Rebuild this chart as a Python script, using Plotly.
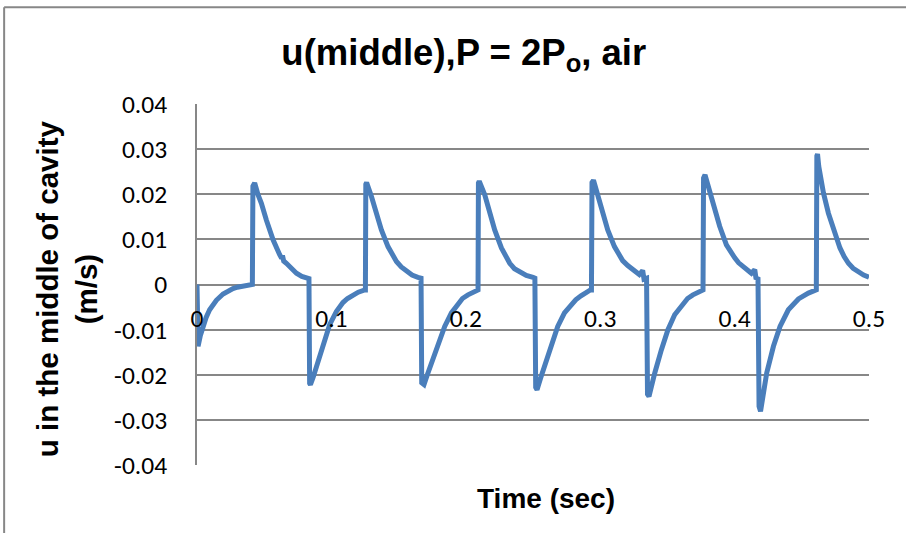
import plotly.graph_objects as go

# Velocity at the middle of the cavity, P = 2Po, air
time_s = [
    # cycle 1
    0.0000, 0.0008, 0.0025, 0.0045, 0.0068, 0.0094, 0.0118, 0.0144, 0.0194, 0.0230,
    0.0268, 0.0300, 0.0342, 0.0375, 0.0405, 0.0412,
    0.0416, 0.0429, 0.0454, 0.0479, 0.0516, 0.0566, 0.0615, 0.0630, 0.0636, 0.0645,
    0.0665, 0.0700, 0.0740, 0.0780, 0.0826, 0.0833,
    # cycle 2
    0.0838, 0.0844, 0.0865, 0.0888, 0.0912, 0.0938, 0.0987, 0.1037, 0.1086, 0.1120,
    0.1161, 0.1200, 0.1248, 0.1253,
    0.1256, 0.1262, 0.1298, 0.1335, 0.1372, 0.1421, 0.1450, 0.1484, 0.1520, 0.1558,
    0.1600, 0.1644, 0.1667,
    # cycle 3
    0.1672, 0.1689, 0.1715, 0.1744, 0.1793, 0.1843, 0.1893, 0.1942, 0.1975, 0.2016,
    0.2050, 0.2086, 0.2091,
    0.2094, 0.2100, 0.2141, 0.2178, 0.2215, 0.2265, 0.2295, 0.2327, 0.2362, 0.2401,
    0.2450, 0.2500, 0.2514,
    # cycle 4
    0.2520, 0.2530, 0.2555, 0.2585, 0.2634, 0.2684, 0.2734, 0.2783, 0.2818, 0.2857,
    0.2890, 0.2927, 0.2935,
    0.2939, 0.2950, 0.2987, 0.3019, 0.3056, 0.3106, 0.3135, 0.3167, 0.3205, 0.3242,
    0.3291, 0.3316, 0.3326, 0.3345,
    # cycle 5
    0.3352, 0.3363, 0.3383, 0.3406, 0.3455, 0.3504, 0.3554, 0.3616, 0.3650, 0.3690,
    0.3720, 0.3753, 0.3765,
    0.3769, 0.3780, 0.3815, 0.3852, 0.3889, 0.3939, 0.3970, 0.4001, 0.4030, 0.4063,
    0.4095, 0.4125, 0.4150, 0.4160, 0.4174,
    # cycle 6
    0.4182, 0.4193, 0.4215, 0.4239, 0.4289, 0.4338, 0.4400, 0.4440, 0.4475, 0.4549,
    0.4598, 0.4608,
    0.4612, 0.4617, 0.4626, 0.4661, 0.4698, 0.4735, 0.4784, 0.4815, 0.4847, 0.4882,
    0.4921, 0.4960, 0.5000,
]
u_mid = [
    # cycle 1
    0.0000, -0.0137, -0.0113, -0.0093, -0.0073, -0.0056, -0.0044, -0.0035, -0.0021, -0.0014,
    -0.0009, -0.0006, -0.0003, -0.0001, 0.0000, 0.0000,
    0.0218, 0.0225, 0.0199, 0.0180, 0.0143, 0.0099, 0.0066, 0.0058, 0.0064, 0.0052,
    0.0047, 0.0035, 0.0025, 0.0018, 0.0014, 0.0013,
    # cycle 2
    -0.0219, -0.0222, -0.0205, -0.0182, -0.0155, -0.0130, -0.0089, -0.0060, -0.0040, -0.0031,
    -0.0023, -0.0017, -0.0012, -0.0012,
    0.0222, 0.0226, 0.0195, 0.0158, 0.0121, 0.0084, 0.0066, 0.0051, 0.0039, 0.0029,
    0.0021, 0.0016, 0.0014,
    # cycle 3
    -0.0218, -0.0222, -0.0199, -0.0174, -0.0130, -0.0093, -0.0063, -0.0041, -0.0031, -0.0023,
    -0.0017, -0.0012, -0.0012,
    0.0225, 0.0229, 0.0199, 0.0158, 0.0121, 0.0081, 0.0062, 0.0047, 0.0035, 0.0027,
    0.0020, 0.0016, 0.0014,
    # cycle 4
    -0.0228, -0.0233, -0.0209, -0.0182, -0.0130, -0.0093, -0.0063, -0.0045, -0.0034, -0.0025,
    -0.0018, -0.0012, -0.0012,
    0.0226, 0.0231, 0.0195, 0.0158, 0.0121, 0.0084, 0.0067, 0.0053, 0.0042, 0.0033,
    0.0022, 0.0031, 0.0012, 0.0014,
    # cycle 5
    -0.0243, -0.0248, -0.0222, -0.0196, -0.0145, -0.0100, -0.0067, -0.0041, -0.0031, -0.0023,
    -0.0018, -0.0013, -0.0012,
    0.0236, 0.0243, 0.0206, 0.0166, 0.0129, 0.0088, 0.0072, 0.0059, 0.0048, 0.0039,
    0.0031, 0.0025, 0.0033, 0.0012, 0.0016,
    # cycle 6
    -0.0270, -0.0281, -0.0235, -0.0196, -0.0137, -0.0093, -0.0056, -0.0042, -0.0032, -0.0019,
    -0.0013, -0.0012,
    0.0285, 0.0289, 0.0262, 0.0203, 0.0158, 0.0121, 0.0081, 0.0062, 0.0047, 0.0036,
    0.0027, 0.0021, 0.0016,
]

y_tick_vals = [0.04, 0.03, 0.02, 0.01, 0.0, -0.01, -0.02, -0.03, -0.04]
y_tick_text = ["0.04", "0.03", "0.02", "0.01", "0", "-0.01", "-0.02", "-0.03", "-0.04"]
x_tick_vals = [0.0, 0.1, 0.2, 0.3, 0.4, 0.5]
x_tick_text = ["0", "0.1", "0.2", "0.3", "0.4", "0.5"]

GRID = "#878787"
TICK_FONT = dict(family="Carlito, Open Sans, Liberation Sans, sans-serif", size=25.5, color="#000000")
BOLD_FONT = "Liberation Sans, Arial, sans-serif"

fig = go.Figure()
fig.add_trace(go.Scatter(
    x=time_s, y=u_mid, mode="lines",
    line=dict(color="#4A7EBB", width=5),
    showlegend=False, hoverinfo="skip",
))

fig.update_layout(
    width=906, height=533,
    margin=dict(l=197, r=37, t=104, b=68),
    paper_bgcolor="white", plot_bgcolor="white",
    title=dict(
        text="<b>u(middle),P = 2P<sub>o</sub>, air</b>",
        font=dict(family=BOLD_FONT, size=36.5, color="#000000"),
        x=0.397, xref="paper", xanchor="center",
        y=1 - 52 / 533, yref="container", yanchor="middle",
    ),
    xaxis=dict(
        range=[0, 0.5], tickvals=x_tick_vals, ticktext=x_tick_text,
        showgrid=False, zeroline=False, showline=False,
        anchor="free", position=0.5,
        ticks="", ticklabelstandoff=16, tickfont=TICK_FONT,
    ),
    yaxis=dict(
        range=[-0.04, 0.04], tickvals=y_tick_vals, ticktext=y_tick_text,
        showgrid=True, gridcolor=GRID, gridwidth=1.5,
        zeroline=False, showline=True, linecolor=GRID, linewidth=1.5,
        ticks="", ticklabelstandoff=23, tickfont=TICK_FONT,
    ),
    annotations=[
        dict(
            text="<b>Time (sec)</b>", xref="paper", yref="paper",
            x=0.52, y=-0.094, xanchor="center", yanchor="middle",
            showarrow=False, font=dict(family=BOLD_FONT, size=28, color="#000000"),
        ),
        dict(
            text="<b>u in the middle of cavity<br>(m/s)</b>", xref="paper", yref="paper",
            x=-0.193, y=0.488, xanchor="center", yanchor="middle", textangle=-90,
            showarrow=False, font=dict(family=BOLD_FONT, size=29.5, color="#000000"),
        ),
    ],
    shapes=[
        # outer chart frame (top and left edges)
        dict(type="line", xref="paper", yref="paper",
             x0=-0.287, x1=1.07, y0=1.268, y1=1.268,
             line=dict(color=GRID, width=2)),
        dict(type="line", xref="paper", yref="paper",
             x0=-0.287, x1=-0.287, y0=1.268, y1=-0.22,
             line=dict(color=GRID, width=2)),
    ],
)

fig.write_html("out.html")
